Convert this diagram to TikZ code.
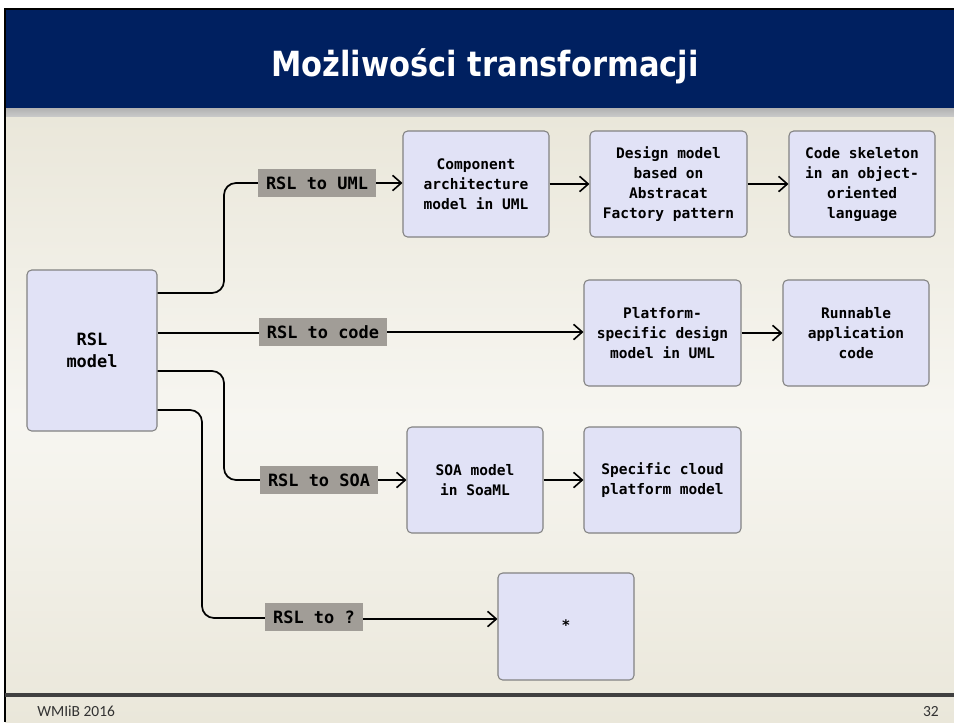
\documentclass[tikz,border=0pt]{standalone}
\usepackage{fontspec}
\setmainfont{DejaVu Sans}
\newfontfamily\titlefont{DejaVu Sans}[FakeStretch=0.88]
\newfontfamily\codefont{DejaVu Sans Mono}
\newfontfamily\footfont{Carlito}
\usetikzlibrary{arrows.meta}

\definecolor{navy}{RGB}{0,32,96}
\definecolor{boxfill}{RGB}{225,226,246}
\definecolor{boxline}{RGB}{130,130,130}
\definecolor{lblfill}{RGB}{161,157,151}
\definecolor{bgdark}{RGB}{234,231,218}
\definecolor{bglight}{RGB}{247,246,241}
\definecolor{rulegrey}{RGB}{64,64,64}
\definecolor{footgrey}{RGB}{50,50,50}

\begin{document}
\begin{tikzpicture}[x=0.75pt,y=-0.75pt,
  box/.style={draw=boxline, fill=boxfill, line width=0.8pt, rounded corners=3.5pt,
    align=center, inner sep=0pt, minimum height=79.5pt,
    font=\codefont\bfseries\fontsize{10.9pt}{15pt}\selectfont},
  lbl/.style={fill=lblfill, inner xsep=6pt, inner ysep=0pt, minimum height=21pt,
    font=\codefont\bfseries\fontsize{12.7pt}{16pt}\selectfont},
  wire/.style={line width=1.3pt, rounded corners=9pt},
  arr/.style={line width=1.3pt, -{Straight Barb[length=6.5pt,width=11.5pt,line width=1.2pt]}}
]
\useasboundingbox (0,0) rectangle (954,722);
\fill[white] (0,0) rectangle (954,722);

% slide background
\shade[shading angle=45, top color=bgdark, bottom color=bgdark, middle color=bglight]
  (5,116) rectangle (954,722);
\fill[navy] (5,9) rectangle (954,108);
\shade[top color={rgb,255:red,178;green,178;blue,178}, bottom color={rgb,255:red,200;green,200;blue,200}]
  (5,108) rectangle (954,116);
\draw[black, line width=1pt] (4,9) -- (954,9);
\draw[black, line width=1.5pt] (5,9) -- (5,722);
\fill[rulegrey] (5,693) rectangle (954,697);

% title and footer
\node[anchor=base, text=white, font=\titlefont\bfseries\fontsize{26pt}{30pt}\selectfont]
  (title) at (485,76) {Możliwości transformacji};
\node[anchor=base west, inner sep=0pt, text=footgrey, font=\footfont\fontsize{11.6pt}{14pt}\selectfont]
  (foot) at (37,716) {WMIiB 2016};
\node[anchor=base east, inner sep=0pt, text=footgrey, font=\footfont\fontsize{11.6pt}{14pt}\selectfont]
  (page) at (939,716) {32};

% boxes
\node[box, minimum width=97.5pt, minimum height=120.75pt,
  font=\codefont\bfseries\fontsize{12.7pt}{16.5pt}\selectfont] (rsl) at (92,350.5) {RSL\\model};
\node[box, minimum width=109.5pt] (comp) at (476,184) {Component\\architecture\\model in UML};
\node[box, minimum width=117.75pt] (design) at (668.5,184) {Design model\\based on\\Abstracat\\Factory pattern};
\node[box, minimum width=109.5pt] (code) at (862,184) {Code skeleton\\in an object-\\oriented\\language};
\node[box, minimum width=117.75pt] (plat) at (662.5,333) {Platform-\\specific design\\model in UML};
\node[box, minimum width=109.5pt] (run) at (856,333) {Runnable\\application\\code};
\node[box, minimum width=102pt] (soa) at (475,480) {SOA model\\in SoaML};
\node[box, minimum width=117.75pt] (cloud) at (662.5,480) {Specific cloud\\platform model};
\node[box, minimum width=102pt, minimum height=80.25pt] (star) at (566,626.5) {\raisebox{2.5pt}{*}};

% wires from the RSL model to the transformation labels
\draw[wire] (rsl.east |- 0,293) -| (224,183) -- (317,183);
\draw[wire] (rsl.east |- 0,333) -- (323,333);
\draw[wire] (rsl.east |- 0,371) -| (224,480) -- (319,480);
\draw[wire] (rsl.east |- 0,410) -| (202,618) -- (314,618);

% transformation labels
\node[lbl] (l1) at (317,183) {RSL to UML};
\node[lbl] (l2) at (323,332) {RSL to code};
\node[lbl] (l3) at (319,480) {RSL to SOA};
\node[lbl] (l4) at (314,617) {RSL to ?};

% arrows
\draw[arr] (l1.east) -- (comp.west |- l1.east);
\draw[arr] (l2.east) -- (plat.west |- l2.east);
\draw[arr] (l3.east) -- (soa.west |- l3.east);
\draw[arr] (l4.east |- 0,619) -- (star.west |- 0,619);
\draw[arr] (comp.east) -- (design.west);
\draw[arr] (design.east) -- (code.west);
\draw[arr] (plat.east) -- (run.west);
\draw[arr] (soa.east) -- (cloud.west);
\end{tikzpicture}
\end{document}
